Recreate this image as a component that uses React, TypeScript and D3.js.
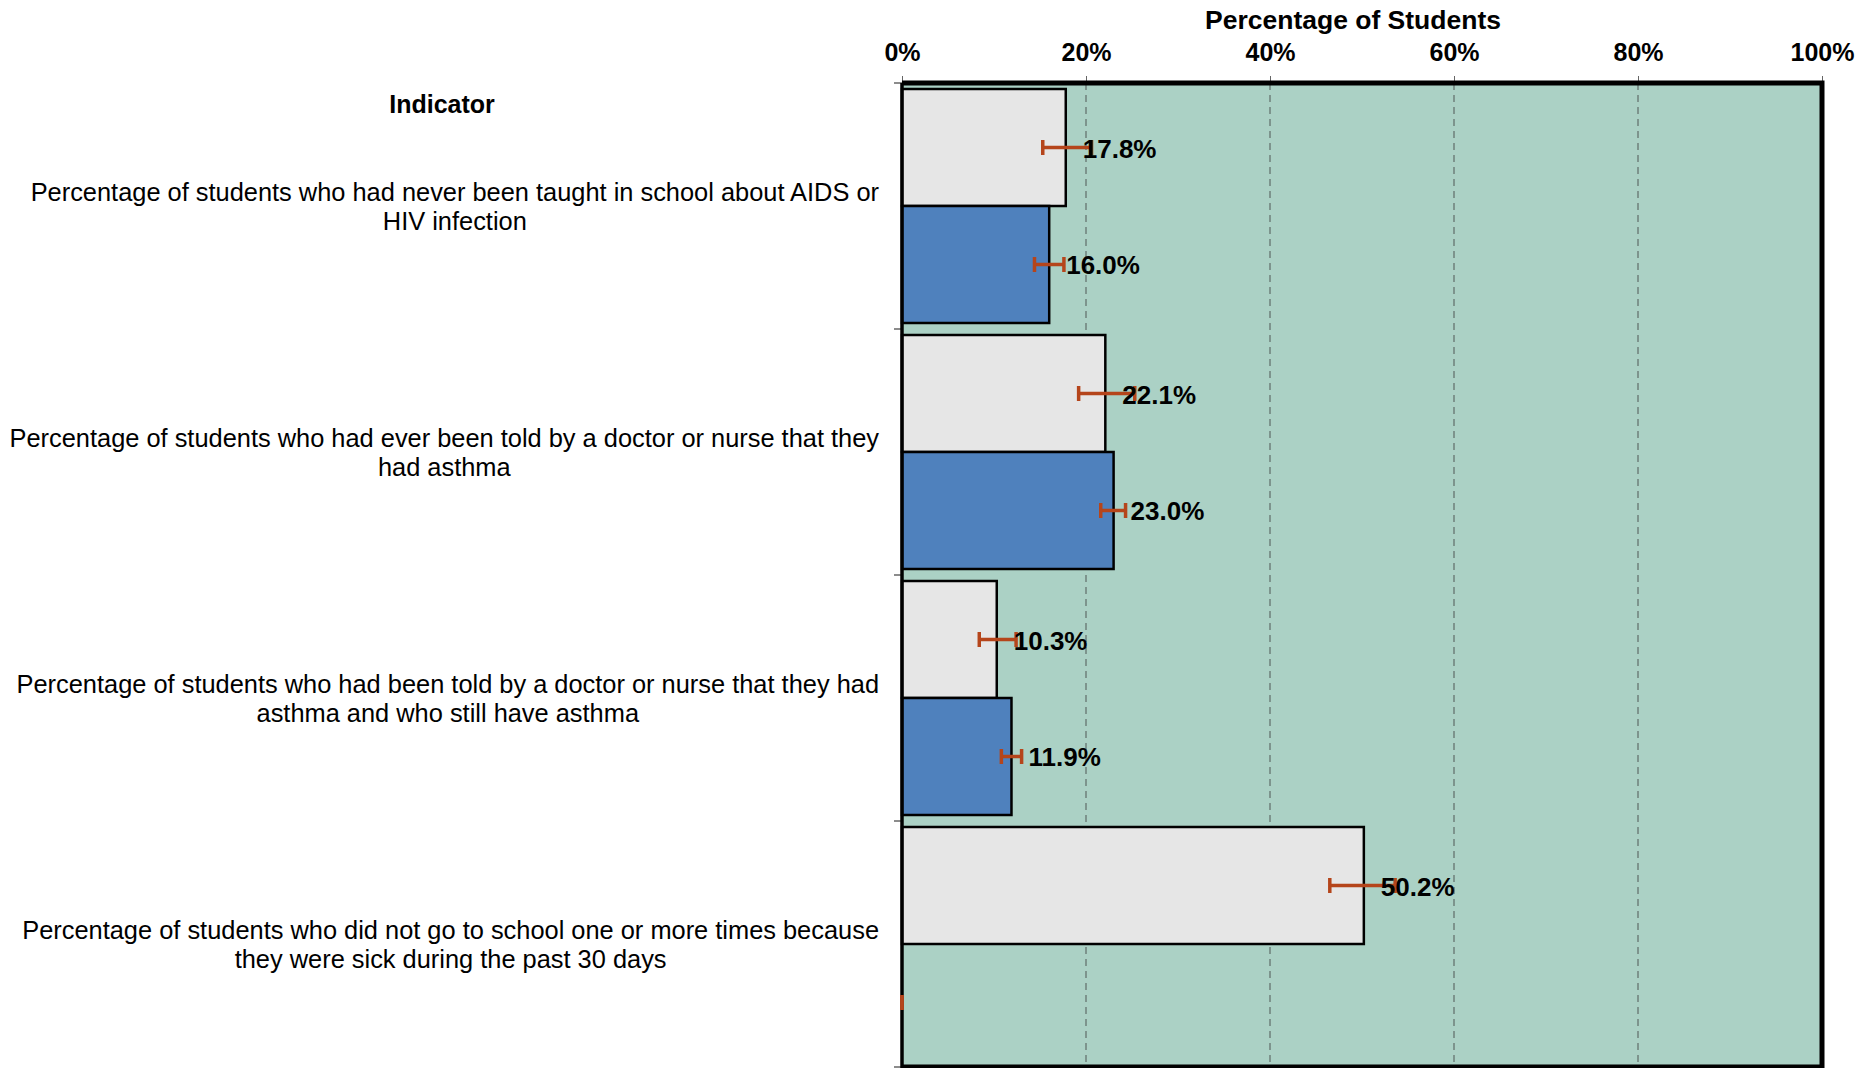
import * as React from 'react';
import { useRef, useEffect } from 'react';
import * as d3 from 'd3';

// indicator labels, two lines each
const categories = [
  ['Percentage of students who had never been taught in school about AIDS or', 'HIV infection'],
  ['Percentage of students who had ever been told by a doctor or nurse that they', 'had asthma'],
  ['Percentage of students who had been told by a doctor or nurse that they had', 'asthma and who still have asthma'],
  ['Percentage of students who did not go to school one or more times because', 'they were sick during the past 30 days'],
];
const seriesKeys = ['first', 'second'];
const firstValues = [17.8, 22.1, 10.3, 50.2];
const firstLow = [15.3, 19.2, 8.4, 46.5];
const firstHigh = [20.6, 25.3, 12.4, 53.6];
const secondValues: (number | null)[] = [16.0, 23.0, 11.9, null];
const secondLow = [14.4, 21.6, 10.8, 0];
const secondHigh = [17.6, 24.3, 13.0, 0];
const xTicks = [0, 20, 40, 60, 80, 100];

export default function App() {
  const svgRef = useRef<SVGSVGElement>(null);
  const width = 1875;
  const height = 1068;
  const margin = { top: 83, right: 53, bottom: 1, left: 902 };
  const font = 'Arial, "Liberation Sans", sans-serif';

  useEffect(() => {
    document.body.style.margin = '0';
    if (!svgRef.current) return;
    const svg = d3.select(svgRef.current);
    svg.selectAll('*').remove();

    const x = d3.scaleLinear().domain([0, 100]).range([margin.left, width - margin.right]);
    const y0 = d3.scaleBand<number>()
      .domain(d3.range(categories.length))
      .range([margin.top, height - margin.bottom]);
    const y1 = d3.scaleBand<string>()
      .domain(seriesKeys)
      .range([0, y0.bandwidth()])
      .paddingOuter(0.0513);

    const rows = categories.map((c, i) => ([
      { key: 'first', i, v: firstValues[i], lo: firstLow[i], hi: firstHigh[i], fill: '#e6e6e6' },
      { key: 'second', i, v: secondValues[i], lo: secondLow[i], hi: secondHigh[i], fill: '#4f81bd' },
    ])).flat();

    // plot background
    svg.append('rect')
      .attr('x', x(0)).attr('y', margin.top)
      .attr('width', x(100) - x(0)).attr('height', height - margin.bottom - margin.top)
      .attr('fill', '#abd1c5');

    // dashed grid
    svg.append('g')
      .selectAll('line')
      .data(xTicks.filter((t) => t > 0 && t < 100))
      .join('line')
      .attr('x1', (d) => x(d)).attr('x2', (d) => x(d))
      .attr('y1', margin.top).attr('y2', height)
      .attr('stroke', '#7d948d')
      .attr('stroke-width', 2)
      .attr('stroke-dasharray', '7,5');

    // bars
    svg.append('g')
      .selectAll('rect')
      .data(rows.filter((r) => r.v !== null))
      .join('rect')
      .attr('x', x(0))
      .attr('y', (d) => (y0(d.i) as number) + (y1(d.key) as number))
      .attr('width', (d) => x(d.v as number) - x(0))
      .attr('height', y1.bandwidth())
      .attr('fill', (d) => d.fill)
      .attr('stroke', '#000')
      .attr('stroke-width', 2.5);

    // top axis
    const axisTop = svg.append('g')
      .attr('transform', `translate(0,${margin.top})`)
      .call(d3.axisTop(x).tickValues(xTicks).tickSize(7).tickFormat((d) => `${d}%`));
    axisTop.select('.domain').remove();
    axisTop.selectAll('.tick line').attr('stroke', '#666');
    axisTop.selectAll('.tick text')
      .attr('y', -31)
      .attr('dy', '0.35em')
      .attr('font-family', font)
      .attr('font-weight', 'bold')
      .attr('font-size', 25)
      .attr('fill', '#000');

    // left ticks at category boundaries
    svg.append('g')
      .selectAll('line')
      .data(d3.range(categories.length + 1))
      .join('line')
      .attr('x1', x(0) - 8).attr('x2', x(0))
      .attr('y1', (d) => margin.top + d * y0.step())
      .attr('y2', (d) => margin.top + d * y0.step())
      .attr('stroke', '#666')
      .attr('stroke-width', 1.5);

    // frame
    svg.append('path')
      .attr('d', `M${x(0)},${margin.top}H${x(100)}V${height - margin.bottom}H${x(0)}`)
      .attr('fill', 'none')
      .attr('stroke', '#000')
      .attr('stroke-width', 5);
    svg.append('line')
      .attr('x1', x(0)).attr('x2', x(0))
      .attr('y1', margin.top).attr('y2', height)
      .attr('stroke', '#000')
      .attr('stroke-width', 3.5);

    // error bars (on top of the axis line so the zero one shows)
    const eb = svg.append('g').attr('stroke', '#b5451b').attr('stroke-width', 3.5);
    rows.forEach((r) => {
      const cy = (y0(r.i) as number) + (y1(r.key) as number) + y1.bandwidth() / 2;
      eb.append('line').attr('x1', x(r.lo)).attr('x2', x(r.hi)).attr('y1', cy).attr('y2', cy);
      [r.lo, r.hi].forEach((v) => {
        eb.append('line').attr('x1', x(v)).attr('x2', x(v)).attr('y1', cy - 7.5).attr('y2', cy + 7.5);
      });
    });

    // value labels
    svg.append('g')
      .selectAll('text')
      .data(rows.filter((r) => r.v !== null))
      .join('text')
      .attr('x', (d) => x(d.v as number) + 17)
      .attr('y', (d) => (y0(d.i) as number) + (y1(d.key) as number) + y1.bandwidth() / 2 + 1)
      .attr('dominant-baseline', 'central')
      .attr('font-family', font)
      .attr('font-weight', 'bold')
      .attr('font-size', 26)
      .attr('fill', '#000')
      .text((d) => `${(d.v as number).toFixed(1)}%`);

    // titles
    svg.append('text')
      .attr('x', 1353).attr('y', 20)
      .attr('text-anchor', 'middle')
      .attr('dominant-baseline', 'central')
      .attr('font-family', font).attr('font-weight', 'bold').attr('font-size', 26.5)
      .text('Percentage of Students');
    svg.append('text')
      .attr('x', 442).attr('y', 104)
      .attr('text-anchor', 'middle')
      .attr('dominant-baseline', 'central')
      .attr('font-family', font).attr('font-weight', 'bold').attr('font-size', 25)
      .text('Indicator');

    // category labels: block right-aligned, lines centred within block
    const labelRight = 879;
    categories.forEach((lines, i) => {
      const cy = (y0(i) as number) + y0.bandwidth() / 2;
      const first = svg.append('text')
        .attr('x', labelRight).attr('y', cy - 14.5)
        .attr('text-anchor', 'end')
        .attr('dominant-baseline', 'central')
        .attr('font-family', font).attr('font-size', 25.4)
        .text(lines[0]);
      const w = (first.node() as SVGTextElement).getComputedTextLength();
      svg.append('text')
        .attr('x', labelRight - w / 2).attr('y', cy + 14.5)
        .attr('text-anchor', 'middle')
        .attr('dominant-baseline', 'central')
        .attr('font-family', font).attr('font-size', 25.4)
        .text(lines[1]);
    });
  }, []);

  return (
    <svg ref={svgRef} width={width} height={height} style={{ display: 'block', background: '#fff' }} />
  );
}
